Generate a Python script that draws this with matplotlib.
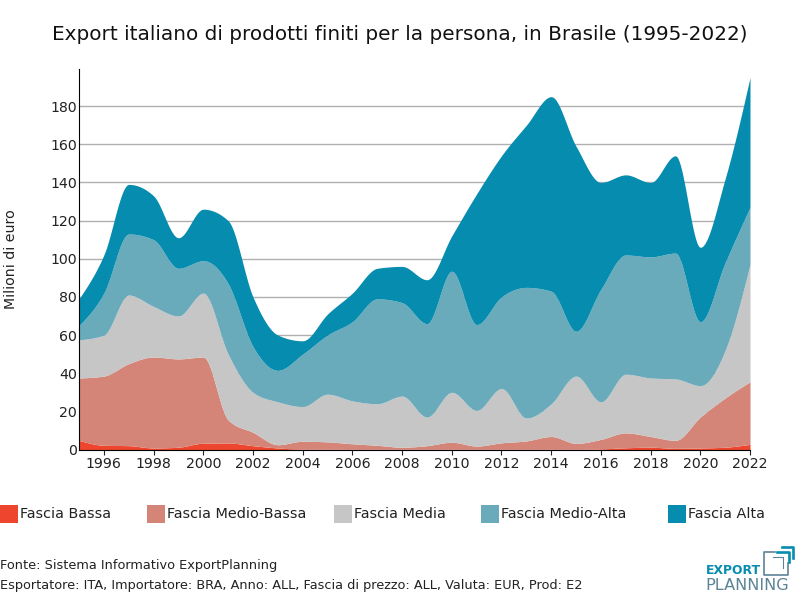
import numpy as np
import matplotlib
matplotlib.use('Agg')
import matplotlib.pyplot as plt
from matplotlib.patches import Rectangle

years = list(range(1995, 2023))

bassa = [4.8, 2.2, 2, 0.8, 1.2, 3.3, 3.4, 2, 0.8, 0.2, 0.2, 0.1, 0.1, 0.1,
         0.1, 0.1, 0.1, 0.1, 0.1, 0.1, 0.1, 0.3, 0.9, 1.2, 0.6, 0.8, 1.2, 2.7]
medio_bassa = [32.7, 36.3, 43, 47.7, 46.3, 45.2, 12.1, 7, 1.7, 4.1, 3.8, 2.9, 2.1, 1.1,
               1.9, 3.7, 1.7, 3.4, 4.4, 6.7, 3.1, 5.0, 7.8, 5.6, 4.2, 16.2, 25.8, 32.8]
media = [20, 21.5, 36, 26.5, 22.5, 33.5, 34.5, 21, 22.5, 18.2, 25, 22.5, 21.8, 26.8,
         15, 26.2, 18.7, 28.5, 12, 17.2, 35.3, 19.7, 30.8, 30.7, 32.2, 16.5, 25, 61.5]
medio_alta = [7.5, 22, 32, 35, 25, 17, 37, 24, 16.5, 27.5, 31, 41.5, 55, 49,
              49, 63.5, 45, 48, 68.5, 59, 23.5, 59, 62.5, 63.5, 66, 33.5, 46, 30]
alta = [14, 20, 26, 23, 16, 27, 33, 26, 18.5, 7, 11, 15, 16, 19,
        23, 18.5, 68.5, 74, 85, 102, 97, 56, 42, 39, 51, 39, 44, 68]

labels = ['Fascia Bassa', 'Fascia Medio-Bassa', 'Fascia Media', 'Fascia Medio-Alta', 'Fascia Alta']
colors = ['#ee452e', '#d58577', '#c6c6c6', '#69aabb', '#068cae']
legend_x = [0, 147, 334, 481, 668]

W, H = 800, 600


# monotone cubic between the yearly values, no overshoot at the peaks
def smooth(x, y, n=20):
    x = np.array(x, dtype=float)
    y = np.array(y, dtype=float)
    s = np.diff(y) / np.diff(x)
    m = np.zeros(len(y))
    for i in range(1, len(y) - 1):
        p = (s[i-1] + s[i]) / 2
        m[i] = (np.sign(s[i-1]) + np.sign(s[i])) * min(abs(s[i-1]), abs(s[i]), 0.5 * abs(p))
    m[0] = (3 * s[0] - m[1]) / 2
    m[-1] = (3 * s[-1] - m[-2]) / 2
    xs, ys = [], []
    for i in range(len(x) - 1):
        t = np.linspace(0, 1, n, endpoint=False)
        h00 = 2*t**3 - 3*t**2 + 1
        h10 = t**3 - 2*t**2 + t
        h01 = -2*t**3 + 3*t**2
        h11 = t**3 - t**2
        xs.append(x[i] + t)
        ys.append(h00*y[i] + h10*m[i] + h01*y[i+1] + h11*m[i+1])
    xs.append(x[-1:])
    ys.append(y[-1:])
    return np.concatenate(xs), np.concatenate(ys)


fig = plt.figure(figsize=(8, 6), dpi=100)
ax = fig.add_axes([79/W, 1 - 449.5/H, 671/W, 380.5/H])

bottom = None
stack = np.zeros(len(years))
for vals, col in zip([bassa, medio_bassa, media, medio_alta, alta], colors):
    stack = stack + np.array(vals)
    xs, top = smooth(years, stack)
    low = np.zeros_like(top) if bottom is None else bottom
    ax.fill_between(xs, low, top, color=col, lw=0, zorder=2)
    bottom = top

ax.set_xlim(1995, 2022)
ax.set_ylim(0, 199.5)
ax.set_xticks(range(1996, 2023, 2))
ax.set_yticks(range(0, 181, 20))
ax.yaxis.grid(True, color='#b0b0b0', lw=1, zorder=1)
ax.set_axisbelow(True)
ax.tick_params(axis='x', labelsize=10.2, color='#222222', labelcolor='#222222', length=3.5, pad=2.2)
ax.tick_params(axis='y', labelsize=10.2, labelcolor='#222222', length=0, pad=1.5)
ax.spines['top'].set_visible(False)
ax.spines['right'].set_visible(False)
ax.set_ylabel('Milioni di euro', fontsize=10.2, color='#222222')
ax.yaxis.set_label_coords((18.5 - 79)/671, 0.5)

fig.text(400/W, 1 - 34/H, 'Export italiano di prodotti finiti per la persona, in Brasile (1995-2022)',
         ha='center', va='center', fontsize=14.42, color='#111111')

for lx, lab, col in zip(legend_x, labels, colors):
    fig.add_artist(Rectangle((lx/W, 1 - 523/H), 18/W, 18/H, transform=fig.transFigure, color=col, lw=0))
    fig.text((lx + 20)/W, 1 - 514/H, lab, ha='left', va='center', fontsize=10.35, color='#222222')

fig.text(0, 1 - 565.5/H, 'Fonte: Sistema Informativo ExportPlanning', ha='left', va='center', fontsize=9.3, color='#222222')
fig.text(0, 1 - 585.5/H, 'Esportatore: ITA, Importatore: BRA, Anno: ALL, Fascia di prezzo: ALL, Valuta: EUR, Prod: E2',
         ha='left', va='center', fontsize=9.3, color='#222222')

# logo
fig.text(706/W, 1 - 571/H, 'EXPORT', ha='left', va='center', fontsize=8.9, fontweight='bold', color='#068cae')
fig.text(705/W, 1 - 585/H, 'PLANNING', ha='left', va='center', fontsize=11.6, color='#5d8496')
logo = fig.add_axes([0, 0, 1, 1], facecolor='none')
logo.set_axis_off()
logo.set_xlim(0, W)
logo.set_ylim(H, 0)
logo.plot([775, 764, 764, 788, 788], [552, 552, 575, 575, 563], color='#5d8496', lw=1.2)
logo.plot([773, 783, 783], [557, 557, 568], color='#5d8496', lw=0.8)
logo.plot([777, 789, 789], [552, 552, 562], color='#068cae', lw=1.9)
logo.plot([782, 793, 793], [547, 547, 558], color='#068cae', lw=1.9)

fig.savefig('out.png', dpi=100)
